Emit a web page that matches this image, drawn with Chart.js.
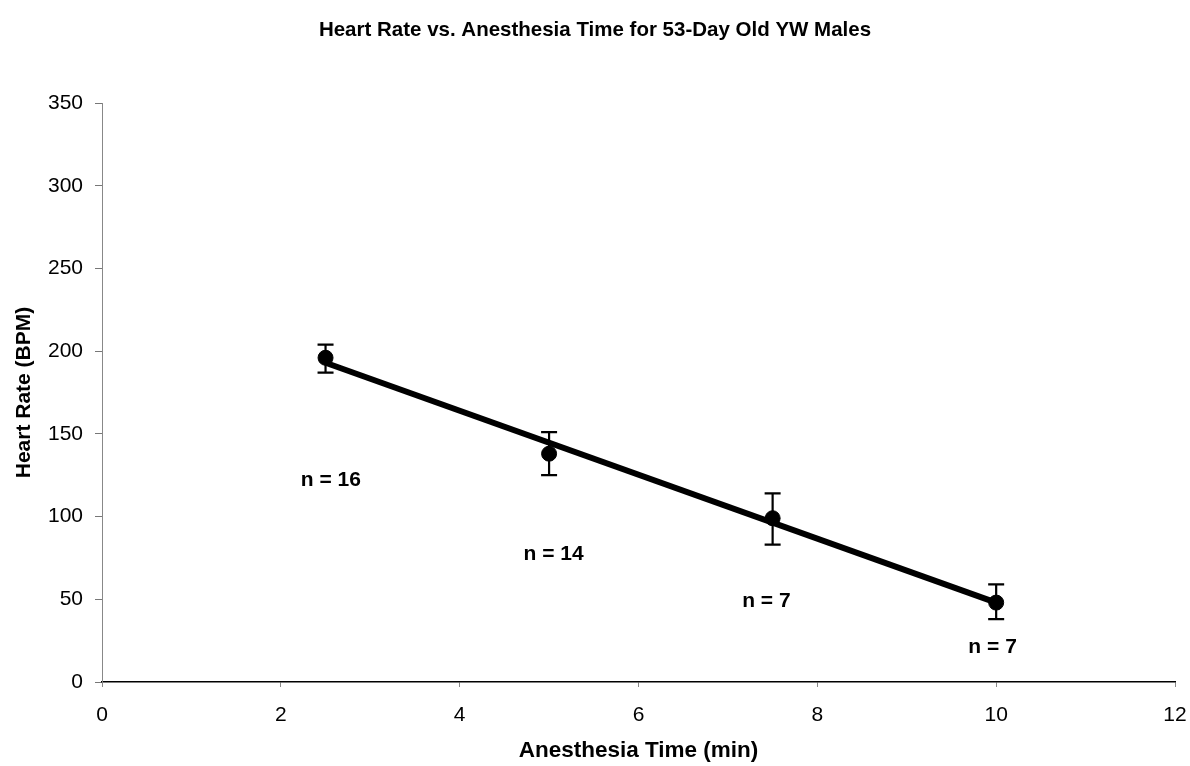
<!DOCTYPE html>
<html>
<head>
<meta charset="utf-8">
<script src="https://cdn.jsdelivr.net/npm/chart.js@4.4.0/dist/chart.umd.min.js"></script>
<style>
  html, body { margin: 0; padding: 0; background: #ffffff; }
  #wrap { width: 1190px; height: 766px; position: relative; }
</style>
</head>
<body>
<div id="wrap"><canvas id="c"></canvas></div>
<script>
// ---- data ----
const anesthesiaTime = [2.5, 5, 7.5, 10];          // min
const heartRate      = [196, 138, 99, 48];        // BPM (means)
const errorHigh      = [204, 151, 114, 59];       // upper error bar ends
const errorLow       = [187, 125, 83, 38];        // lower error bar ends
const trendX         = [2.5, 10];                 // fitted line ends (x)
const trendY         = [193, 48];                 // fitted line ends (y)
const sampleLabels   = ['n = 16', 'n = 14', 'n = 7', 'n = 7'];
const sampleLabelX   = [2.56, 5.05, 7.43, 9.96];
const sampleLabelY   = [122, 77, 49, 21];
const xTicks = [0, 2, 4, 6, 8, 10, 12];
const yTicks = [0, 50, 100, 150, 200, 250, 300, 350];

const FONT = "'Liberation Sans', Arial, sans-serif";

const errorBarPlugin = {
  id: 'errorBars',
  afterDatasetsDraw(chart) {
    const ctx = chart.ctx;
    const xs = chart.scales.x, ys = chart.scales.y;
    ctx.save();
    ctx.strokeStyle = '#000';
    ctx.lineWidth = 2.2;
    for (let i = 0; i < anesthesiaTime.length; i++) {
      const px = xs.getPixelForValue(anesthesiaTime[i]);
      const pTop = ys.getPixelForValue(errorHigh[i]);
      const pBot = ys.getPixelForValue(errorLow[i]);
      ctx.beginPath();
      ctx.moveTo(px, pTop); ctx.lineTo(px, pBot);
      ctx.moveTo(px - 8, pTop); ctx.lineTo(px + 8, pTop);
      ctx.moveTo(px - 8, pBot); ctx.lineTo(px + 8, pBot);
      ctx.stroke();
    }
    ctx.restore();
  }
};

const sampleLabelPlugin = {
  id: 'sampleLabels',
  afterDraw(chart) {
    const ctx = chart.ctx;
    const xs = chart.scales.x, ys = chart.scales.y;
    ctx.save();
    ctx.fillStyle = '#000';
    ctx.font = "bold 21px " + FONT;
    ctx.textAlign = 'center';
    ctx.textBaseline = 'middle';
    for (let i = 0; i < sampleLabels.length; i++) {
      ctx.fillText(sampleLabels[i], xs.getPixelForValue(sampleLabelX[i]), ys.getPixelForValue(sampleLabelY[i]));
    }
    ctx.restore();
  }
};

new Chart(document.getElementById('c'), {
  type: 'scatter',
  data: {
    datasets: [
      {
        label: 'Trend',
        type: 'line',
        data: trendX.map((x, i) => ({ x: x, y: trendY[i] })),
        borderColor: '#000',
        borderWidth: 6,
        pointRadius: 0,
        fill: false,
        order: 1
      },
      {
        label: 'Heart Rate',
        data: anesthesiaTime.map((x, i) => ({ x: x, y: heartRate[i] })),
        backgroundColor: '#000',
        borderColor: '#000',
        pointRadius: 7.5,
        pointHoverRadius: 7.5,
        order: 2
      }
    ]
  },
  options: {
    responsive: true,
    maintainAspectRatio: false,
    animation: false,
    events: [],
    layout: { padding: { top: 0, left: 0, right: 0, bottom: 0 } },
    plugins: {
      legend: { display: false },
      tooltip: { enabled: false },
      title: {
        display: true,
        text: 'Heart Rate vs. Anesthesia Time for 53-Day Old YW Males',
        color: '#000',
        font: { family: FONT, size: 20.5, weight: 'bold', lineHeight: 1.2 },
        padding: { top: 18, bottom: 60.4 }
      }
    },
    scales: {
      x: {
        type: 'linear',
        min: 0, max: 12,
        afterBuildTicks(scale) { scale.ticks = xTicks.map(v => ({ value: v })); },
        afterFit(scale) { scale.height = 84; scale.paddingRight = 15; scale.paddingLeft = 0; },
        grid: { drawOnChartArea: false, drawTicks: true, tickLength: 5, color: '#888' },
        border: { display: true, color: '#000', width: 1.5 },
        ticks: { color: '#000', font: { family: FONT, size: 21 }, padding: 16, maxRotation: 0 },
        title: {
          display: true,
          text: 'Anesthesia Time (min)',
          color: '#000',
          font: { family: FONT, size: 22.5, weight: 'bold', lineHeight: 1.2 },
          padding: { top: 0, bottom: 2 }
        }
      },
      y: {
        type: 'linear',
        min: 0, max: 350,
        afterBuildTicks(scale) { scale.ticks = yTicks.map(v => ({ value: v })); },
        afterFit(scale) { scale.width = 102; },
        grid: { drawOnChartArea: false, drawTicks: true, tickLength: 7, color: '#777' },
        border: { display: true, color: '#888', width: 1, dash: [6, 2, 2, 2] },
        ticks: { color: '#000', font: { family: FONT, size: 21 }, padding: 12 },
        title: {
          display: true,
          text: 'Heart Rate (BPM)',
          color: '#000',
          font: { family: FONT, size: 21, weight: 'bold', lineHeight: 1.2 },
          padding: { top: 12, bottom: 0 }
        }
      }
    }
  },
  plugins: [errorBarPlugin, sampleLabelPlugin]
});
</script>
</body>
</html>
